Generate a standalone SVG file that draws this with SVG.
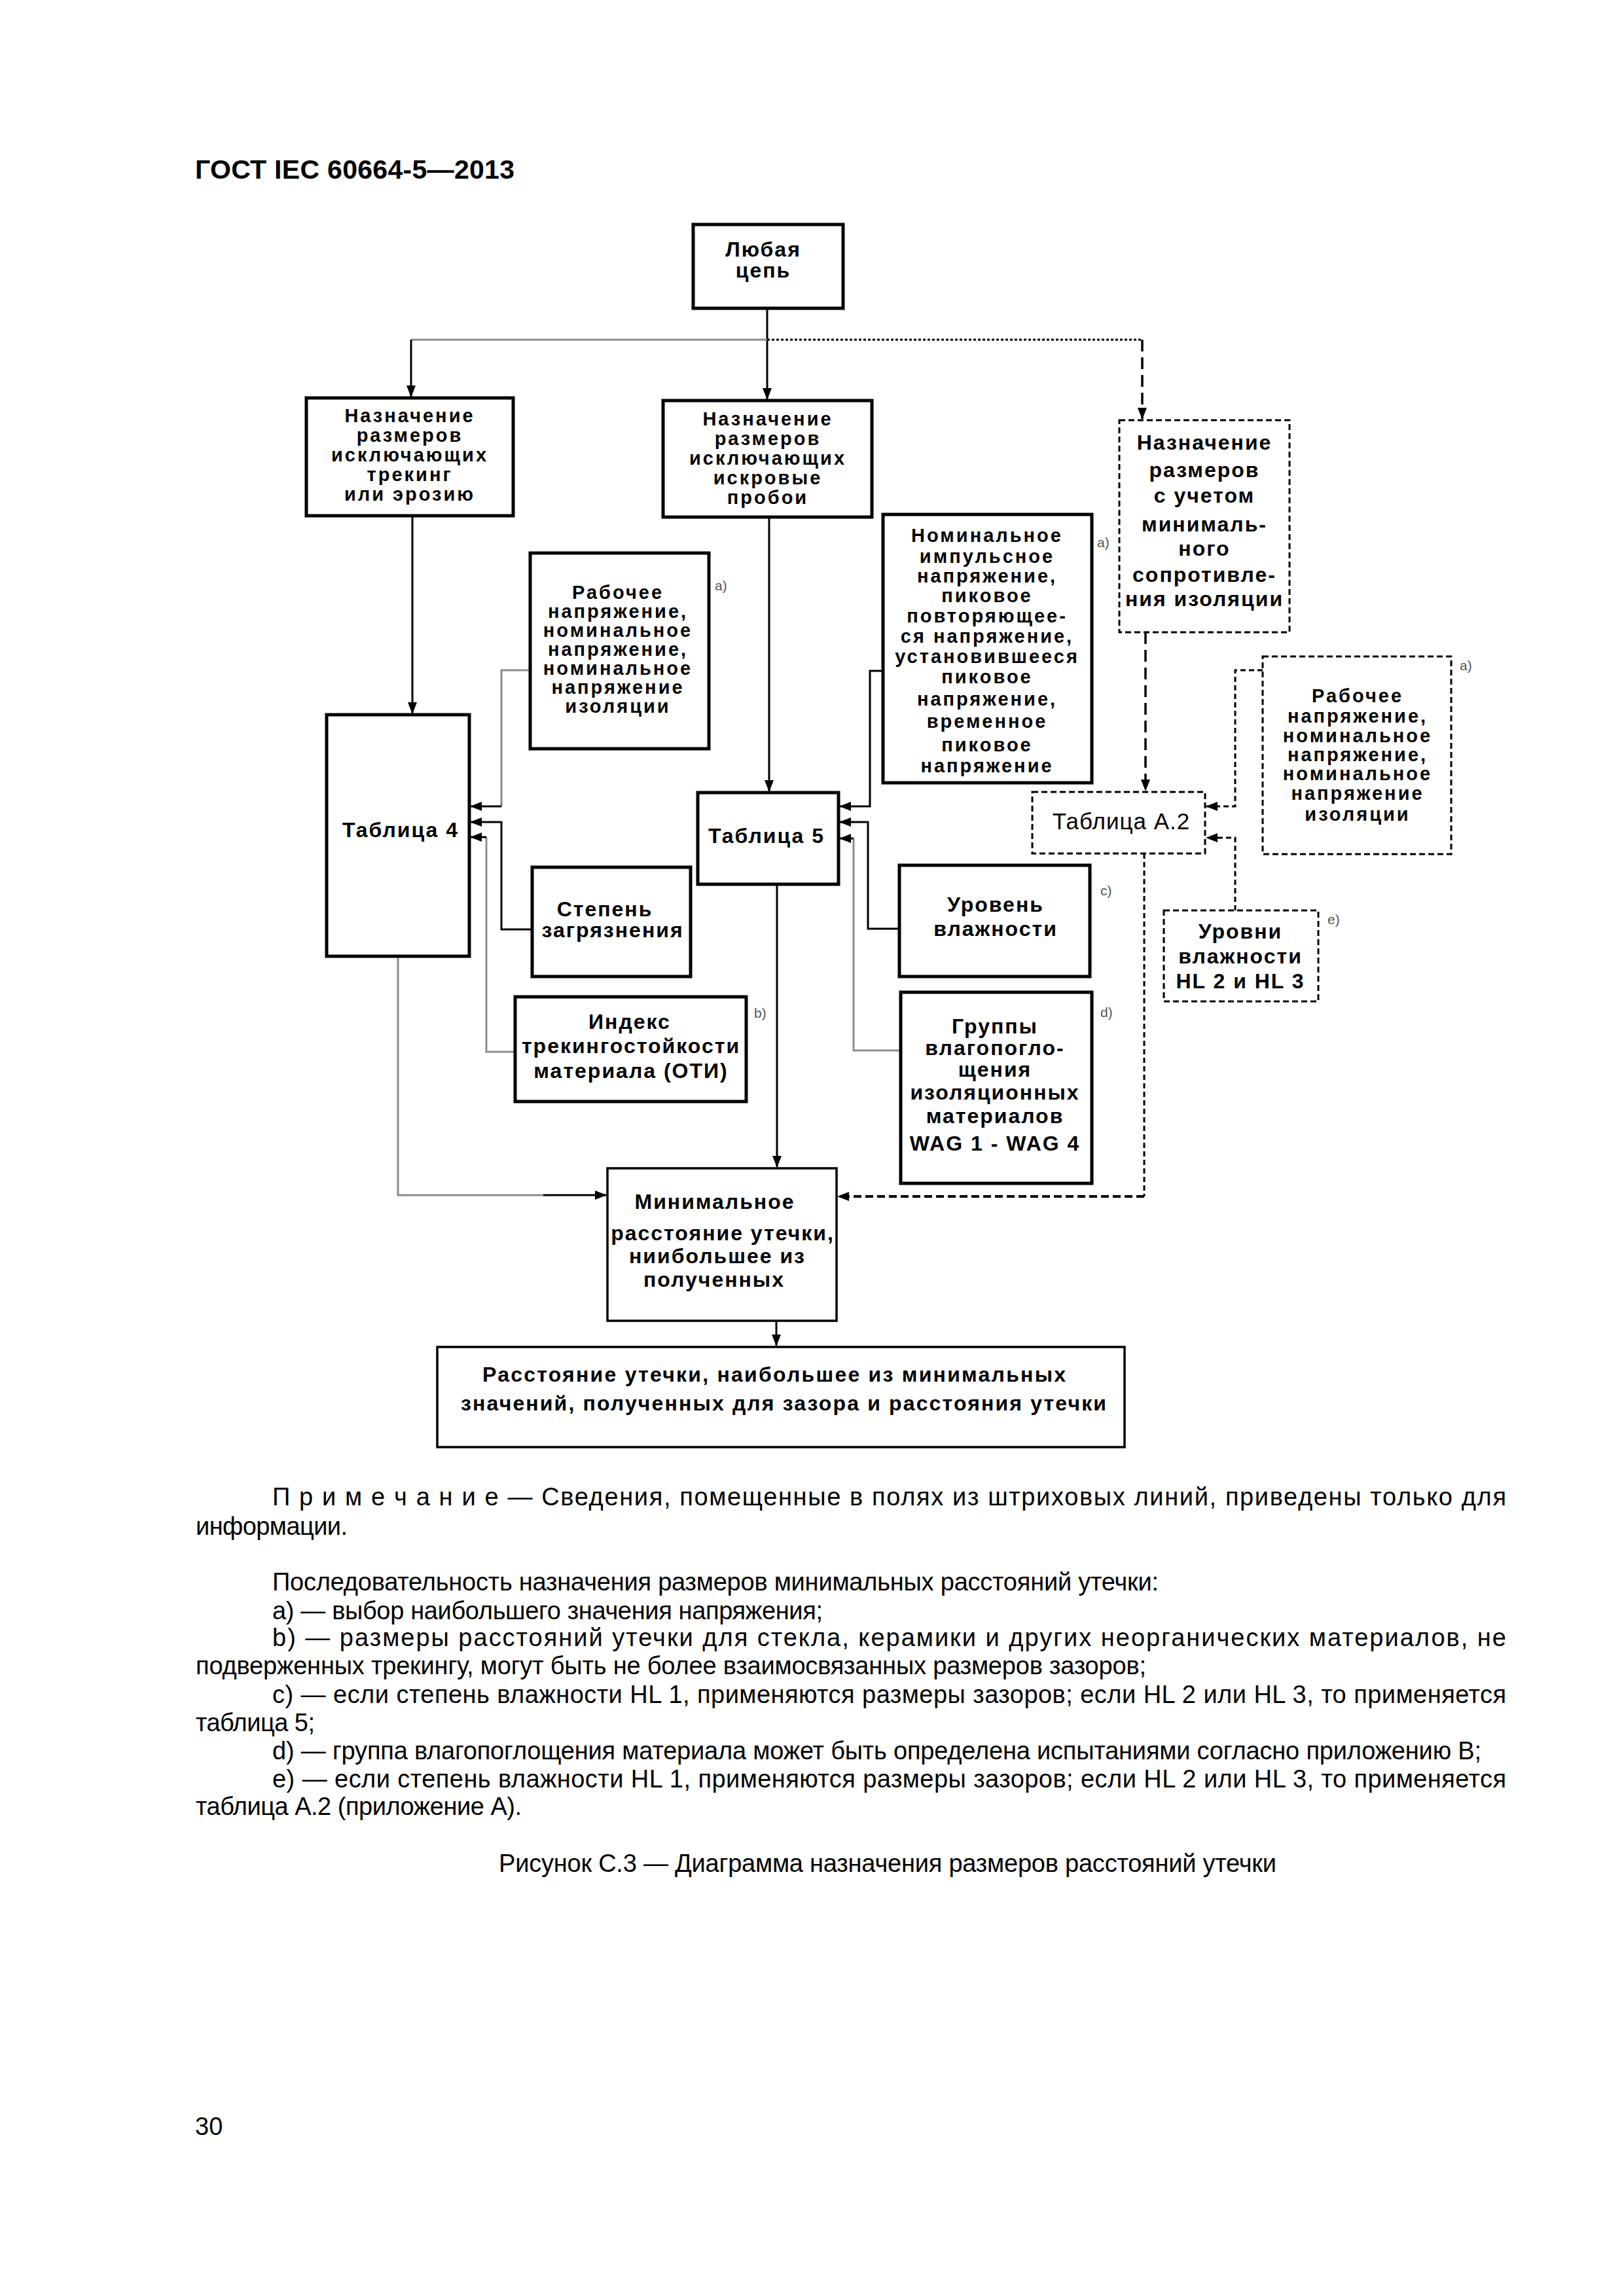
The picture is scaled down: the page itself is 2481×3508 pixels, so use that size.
<svg xmlns="http://www.w3.org/2000/svg" width="2481" height="3508" viewBox="0 0 2481 3508">
<style>
.bx{fill:#fff;stroke:#000;stroke-width:5}
.bx3{fill:#fff;stroke:#000;stroke-width:3.5}
.dbx{fill:#fff;stroke:#000;stroke-width:3;stroke-dasharray:9 5}
.t{font-family:"Liberation Sans",Arial,sans-serif;font-weight:bold;font-size:32px;letter-spacing:2px;text-anchor:middle;fill:#000}
.s{font-size:29px;letter-spacing:3px}
.tn{font-family:"Liberation Sans",Arial,sans-serif;font-size:35px;letter-spacing:1px;text-anchor:middle;fill:#000}
.lab{font-family:"Liberation Sans",Arial,sans-serif;font-size:21px;fill:#555}
.n{font-family:"Liberation Sans",Arial,sans-serif;font-size:38px;fill:#000}
.h{font-family:"Liberation Sans",Arial,sans-serif;font-weight:bold;font-size:41px;fill:#000}
.k{fill:none;stroke:#000;stroke-width:3}
.g{fill:none;stroke:#8c8c8c;stroke-width:3}
.dot{fill:none;stroke:#000;stroke-width:3;stroke-dasharray:4 3}
.dl{fill:none;stroke:#000;stroke-width:3.5;stroke-dasharray:18 9}
.dd{fill:none;stroke:#000;stroke-width:3;stroke-dasharray:8 5}
.dh{fill:none;stroke:#000;stroke-width:4;stroke-dasharray:12 6}
</style>
<defs>
<marker id="ah" markerUnits="userSpaceOnUse" markerWidth="18" markerHeight="14" viewBox="0 0 18 14" refX="17" refY="7" orient="auto"><path d="M0,0 L18,7 L0,14 z" fill="#000"/></marker>
</defs>
<rect width="2481" height="3508" fill="#fff"/>
<text class="h" x="298" y="273" textLength="488">ГОСТ IEC 60664-5—2013</text>

<g id="connectors">
<path class="k" d="M1172,470 V610" marker-end="url(#ah)"/>
<path class="g" d="M1172,519 H628"/>
<path class="k" d="M628,519 V606" marker-end="url(#ah)"/>
<path class="dot" d="M1172,519 H1745"/>
<path class="dl" d="M1745,519 V640" marker-end="url(#ah)"/>
<path class="k" d="M630,788 V1090" marker-end="url(#ah)"/>
<path class="k" d="M1175,790 V1209" marker-end="url(#ah)"/>
<path class="g" d="M810,1024 H766 V1232"/>
<path class="k" d="M766,1232 H719" marker-end="url(#ah)"/>
<path class="k" d="M813,1420 H766 V1256 H719" marker-end="url(#ah)"/>
<path class="g" d="M787,1607 H743 V1279"/>
<path class="k" d="M743,1279 H719" marker-end="url(#ah)"/>
<path class="k" d="M1349,1025 H1329 V1232 H1283" marker-end="url(#ah)"/>
<path class="k" d="M1374,1419 H1326 V1256 H1283" marker-end="url(#ah)"/>
<path class="g" d="M1376,1605 H1304 V1281"/>
<path class="k" d="M1304,1281 H1283" marker-end="url(#ah)"/>
<path class="k" d="M1187,1351 V1783" marker-end="url(#ah)"/>
<path class="g" d="M608,1461 V1826 H830"/>
<path class="k" d="M830,1826 H926" marker-end="url(#ah)"/>
<path class="dl" d="M1750,966 V1208" marker-end="url(#ah)"/>
<path class="dd" d="M1929,1024 H1887 V1232 H1843" marker-end="url(#ah)"/>
<path class="dd" d="M1887,1391 V1280 H1843" marker-end="url(#ah)"/>
<path class="dd" d="M1748,1304 V1828"/>
<path class="dh" d="M1748,1828 H1280" marker-end="url(#ah)"/>
<path class="k" d="M1186,2018 V2056" marker-end="url(#ah)"/>
</g>

<g id="n-any">
<rect class="bx" x="1059" y="343" width="229" height="128"/>
<text class="t" x="1166" y="392">Любая</text>
<text class="t" x="1166" y="424">цепь</text>
</g>

<g id="n-tracking">
<rect class="bx" x="468" y="608" width="316" height="180"/>
<text class="t s" x="626" y="645">Назначение</text>
<text class="t s" x="626" y="675">размеров</text>
<text class="t s" x="626" y="705">исключающих</text>
<text class="t s" x="626" y="735">трекинг</text>
<text class="t s" x="626" y="765">или эрозию</text>
</g>

<g id="n-spark">
<rect class="bx" x="1013" y="612" width="319" height="178"/>
<text class="t s" x="1173" y="650">Назначение</text>
<text class="t s" x="1173" y="680">размеров</text>
<text class="t s" x="1173" y="710">исключающих</text>
<text class="t s" x="1173" y="740">искровые</text>
<text class="t s" x="1173" y="770">пробои</text>
</g>

<g id="n-resist">
<rect class="dbx" x="1710" y="642" width="260" height="324"/>
<text class="t" x="1840" y="687">Назначение</text>
<text class="t" x="1840" y="729">размеров</text>
<text class="t" x="1840" y="768">с учетом</text>
<text class="t" x="1840" y="812">минималь-</text>
<text class="t" x="1840" y="849">ного</text>
<text class="t" x="1840" y="889">сопротивле-</text>
<text class="t" x="1840" y="926">ния изоляции</text>
</g>

<g id="n-work1">
<rect class="bx" x="810" y="845" width="273" height="299"/>
<text class="t s" x="944" y="915">Рабочее</text>
<text class="t s" x="944" y="944">напряжение,</text>
<text class="t s" x="944" y="973">номинальное</text>
<text class="t s" x="944" y="1002">напряжение,</text>
<text class="t s" x="944" y="1031">номинальное</text>
<text class="t s" x="944" y="1060">напряжение</text>
<text class="t s" x="944" y="1089">изоляции</text>
<text class="lab" x="1092" y="902">a)</text>
</g>

<g id="n-impulse">
<rect class="bx" x="1349" y="786" width="319" height="410"/>
<text class="t s" x="1508" y="828">Номинальное</text>
<text class="t s" x="1508" y="860">импульсное</text>
<text class="t s" x="1508" y="890">напряжение,</text>
<text class="t s" x="1508" y="920">пиковое</text>
<text class="t s" x="1508" y="951">повторяющее-</text>
<text class="t s" x="1508" y="982">ся напряжение,</text>
<text class="t s" x="1508" y="1013">установившееся</text>
<text class="t s" x="1508" y="1044">пиковое</text>
<text class="t s" x="1508" y="1078">напряжение,</text>
<text class="t s" x="1508" y="1112">временное</text>
<text class="t s" x="1508" y="1148">пиковое</text>
<text class="t s" x="1508" y="1180">напряжение</text>
<text class="lab" x="1676" y="836">a)</text>
</g>

<g id="n-work2">
<rect class="dbx" x="1929" y="1003" width="288" height="302"/>
<text class="t s" x="2074" y="1073">Рабочее</text>
<text class="t s" x="2074" y="1104">напряжение,</text>
<text class="t s" x="2074" y="1134">номинальное</text>
<text class="t s" x="2074" y="1163">напряжение,</text>
<text class="t s" x="2074" y="1192">номинальное</text>
<text class="t s" x="2074" y="1222">напряжение</text>
<text class="t s" x="2074" y="1254">изоляции</text>
<text class="lab" x="2230" y="1024">a)</text>
</g>

<g id="n-table4">
<rect class="bx" x="499" y="1092" width="218" height="369"/>
<text class="t" x="612" y="1279">Таблица 4</text>
</g>

<g id="n-table5">
<rect class="bx" x="1066" y="1211" width="215" height="140"/>
<text class="t" x="1171" y="1288">Таблица 5</text>
</g>

<g id="n-tableA2">
<rect class="dbx" x="1577" y="1210" width="264" height="94"/>
<text class="tn" x="1713" y="1267">Таблица А.2</text>
</g>

<g id="n-pollution">
<rect class="bx" x="813" y="1325" width="242" height="167"/>
<text class="t" x="924" y="1400">Степень</text>
<text class="t" x="936" y="1432">загрязнения</text>
</g>

<g id="n-cti">
<rect class="bx" x="787" y="1523" width="353" height="160"/>
<text class="t" x="962" y="1572">Индекс</text>
<text class="t" x="964" y="1609">трекингостойкости</text>
<text class="t" x="964" y="1647">материала (ОТИ)</text>
<text class="lab" x="1152" y="1555">b)</text>
</g>

<g id="n-humidity">
<rect class="bx" x="1374" y="1322" width="291" height="170"/>
<text class="t" x="1521" y="1393">Уровень</text>
<text class="t" x="1521" y="1430">влажности</text>
<text class="lab" x="1681" y="1368">c)</text>
</g>

<g id="n-wag">
<rect class="bx" x="1376" y="1516" width="292" height="292"/>
<text class="t" x="1520" y="1579">Группы</text>
<text class="t" x="1520" y="1612">влагопогло-</text>
<text class="t" x="1520" y="1645">щения</text>
<text class="t" x="1520" y="1680">изоляционных</text>
<text class="t" x="1520" y="1716">материалов</text>
<text class="t" x="1520" y="1758">WAG 1 - WAG 4</text>
<text class="lab" x="1681" y="1554">d)</text>
</g>

<g id="n-hl">
<rect class="dbx" x="1778" y="1391" width="236" height="139"/>
<text class="t" x="1895" y="1434">Уровни</text>
<text class="t" x="1895" y="1472">влажности</text>
<text class="t" x="1895" y="1510">HL 2 и HL 3</text>
<text class="lab" x="2028" y="1412">e)</text>
</g>

<g id="n-min">
<rect class="bx3" x="928" y="1785" width="350" height="233"/>
<text class="t" x="1092" y="1847">Минимальное</text>
<text class="t" x="1104" y="1895">расстояние утечки,</text>
<text class="t" x="1096" y="1930">ниибольшее из</text>
<text class="t" x="1091" y="1966">полученных</text>
</g>

<g id="n-result">
<rect class="bx3" x="668" y="2058" width="1050" height="153"/>
<text class="t" style="text-anchor:start;letter-spacing:0" x="737" y="2111" textLength="891">Расстояние утечки, наибольшее из минимальных</text>
<text class="t" style="text-anchor:start;letter-spacing:0" x="704" y="2155" textLength="986">значений, полученных для зазора и расстояния утечки</text>
</g>

<g id="notes">
<text class="n" x="416" y="2300" textLength="1885">П р и м е ч а н и е  — Сведения, помещенные в полях из штриховых линий, приведены только для</text>
<text class="n" x="299" y="2345" textLength="232">информации.</text>
<text class="n" x="416" y="2430" textLength="1354">Последовательность назначения размеров минимальных расстояний утечки:</text>
<text class="n" x="416" y="2474" textLength="841">a) — выбор наибольшего значения напряжения;</text>
<text class="n" x="416" y="2515" textLength="1885">b) — размеры расстояний утечки для стекла, керамики и других неорганических материалов, не</text>
<text class="n" x="299" y="2558" textLength="1452">подверженных трекингу, могут быть не более взаимосвязанных размеров зазоров;</text>
<text class="n" x="416" y="2602" textLength="1885">c) — если степень влажности HL 1, применяются размеры зазоров; если HL 2 или HL 3, то применяется</text>
<text class="n" x="299" y="2645" textLength="182">таблица 5;</text>
<text class="n" x="416" y="2688" textLength="1847">d) — группа влагопоглощения материала может быть определена испытаниями согласно приложению В;</text>
<text class="n" x="416" y="2731" textLength="1885">e) — если степень влажности HL 1, применяются размеры зазоров; если HL 2 или HL 3, то применяется</text>
<text class="n" x="299" y="2773" textLength="498">таблица А.2 (приложение А).</text>
<text class="n" x="762" y="2860" textLength="1188">Рисунок С.3 — Диаграмма назначения размеров расстояний утечки</text>
<text class="n" x="298" y="3262">30</text>
</g>
</svg>
